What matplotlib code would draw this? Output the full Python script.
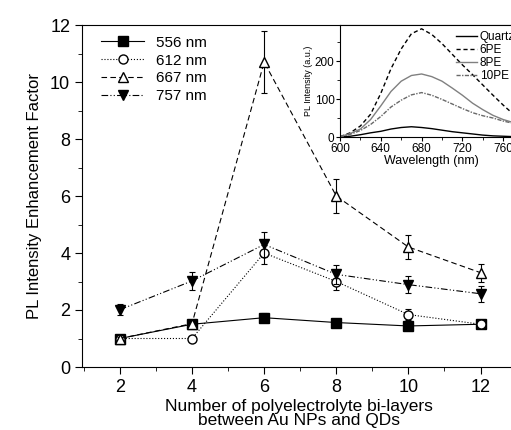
import matplotlib
matplotlib.use("Agg")
import matplotlib.pyplot as plt
from matplotlib.ticker import MultipleLocator

plt.rcParams['font.family'] = ['Liberation Sans', 'DejaVu Sans']

# main data
layers = [2, 4, 6, 8, 10, 12]
f556 = [1.0, 1.5, 1.73, 1.56, 1.44, 1.5]
e556 = [0.05, 0.1, 0.15, 0.12, 0.15, 0.12]
f612 = [1.0, 1.0, 4.0, 3.0, 1.84, 1.5]
e612 = [0.05, 0.05, 0.4, 0.3, 0.2, 0.1]
f667 = [1.0, 1.52, 10.7, 6.0, 4.21, 3.31]
e667 = [0.05, 0.1, 1.1, 0.6, 0.42, 0.32]
f757 = [2.01, 3.02, 4.3, 3.25, 2.89, 2.57]
e757 = [0.2, 0.33, 0.45, 0.33, 0.3, 0.28]

# inset spectra
wl = [600, 610, 620, 630, 640, 650, 660, 670, 680, 690, 700, 710, 720, 730, 740, 750, 760, 770]
quartz = [0, 2, 6, 11, 15, 21, 25, 27, 25, 22, 18, 14, 11, 8, 5, 3, 2, 1]
pe6 = [1, 11, 29, 60, 115, 180, 232, 272, 285, 270, 246, 218, 190, 164, 137, 110, 84, 60]
pe8 = [1, 9, 21, 46, 82, 120, 147, 162, 166, 159, 147, 129, 110, 89, 72, 57, 46, 38]
pe10 = [0, 7, 17, 33, 54, 79, 97, 111, 117, 110, 99, 87, 75, 64, 56, 50, 42, 36]

fig = plt.figure(figsize=(5.11, 4.30), dpi=100)
ax = fig.add_axes([82/511, 63/430, 434.6/511, 342/430])

series = [
    (f556, e556, 's', '-', 'black', '556 nm'),
    (f612, e612, 'o', ':', 'white', '612 nm'),
    (f667, e667, '^', (0, (5, 3)), 'white', '667 nm'),
    (f757, e757, 'v', (0, (6, 2, 1, 2, 1, 2)), 'black', '757 nm'),
]
for vals, errs, mk, ls, fc, lab in series:
    ax.errorbar(layers, vals, yerr=errs, fmt='none', ecolor='black',
                elinewidth=0.8, capsize=2.5, capthick=0.8)
    ax.plot(layers, vals, marker=mk, ls=ls, color='black', lw=0.8,
            mfc=fc, mec='black', ms=6.5, label=lab)

ax.set_xlim(0.95, 13)
ax.set_ylim(0, 12)
ax.xaxis.set_major_locator(MultipleLocator(2))
ax.xaxis.set_minor_locator(MultipleLocator(1))
ax.yaxis.set_major_locator(MultipleLocator(2))
ax.yaxis.set_minor_locator(MultipleLocator(1))
ax.tick_params(which='both', direction='out', labelsize=13)
ax.tick_params(which='major', length=5)
ax.tick_params(which='minor', length=3)
ax.set_xlabel('Number of polyelectrolyte bi-layers\nbetween Au NPs and QDs', fontsize=12.5, linespacing=0.95, labelpad=2)
ax.set_ylabel('PL Intensity Enhancement Factor', fontsize=12, labelpad=6)
ax.legend(loc='upper left', frameon=False, fontsize=11, handlelength=2.8,
          labelspacing=0.25, borderaxespad=0.3, bbox_to_anchor=(0.02, 1.0))

# inset
ins = fig.add_axes([340/511, 293/430, 183.6/511, 112/430])
ins.plot(wl, quartz, color='black', lw=1.0, label='Quartz')
ins.plot(wl, pe6, color='black', lw=1.0, ls=(0, (3, 2)), label='6PE')
ins.plot(wl, pe8, color='gray', lw=1.0, label='8PE')
ins.plot(wl, pe10, color='dimgray', lw=1.0, ls=(0, (3, 1, 1, 1)), label='10PE')
ins.set_xlim(600, 780)
ins.set_ylim(0, 295)
ins.xaxis.set_major_locator(MultipleLocator(40))
ins.xaxis.set_minor_locator(MultipleLocator(20))
ins.yaxis.set_major_locator(MultipleLocator(100))
ins.yaxis.set_minor_locator(MultipleLocator(50))
ins.tick_params(which='both', direction='out', labelsize=8.5, pad=1)
ins.tick_params(which='major', length=3)
ins.tick_params(which='minor', length=2)
ins.set_xlabel('Wavelength (nm)', fontsize=9, labelpad=0)
ins.set_ylabel('PL Intensity (a.u.)', fontsize=6.5, labelpad=1)
ins.legend(loc='upper right', frameon=False, fontsize=8.5, handlelength=1.8,
           labelspacing=0.1, borderaxespad=0.1, handletextpad=0.2,
           bbox_to_anchor=(0.985, 1.0))

fig.savefig('out.png', dpi=100)
